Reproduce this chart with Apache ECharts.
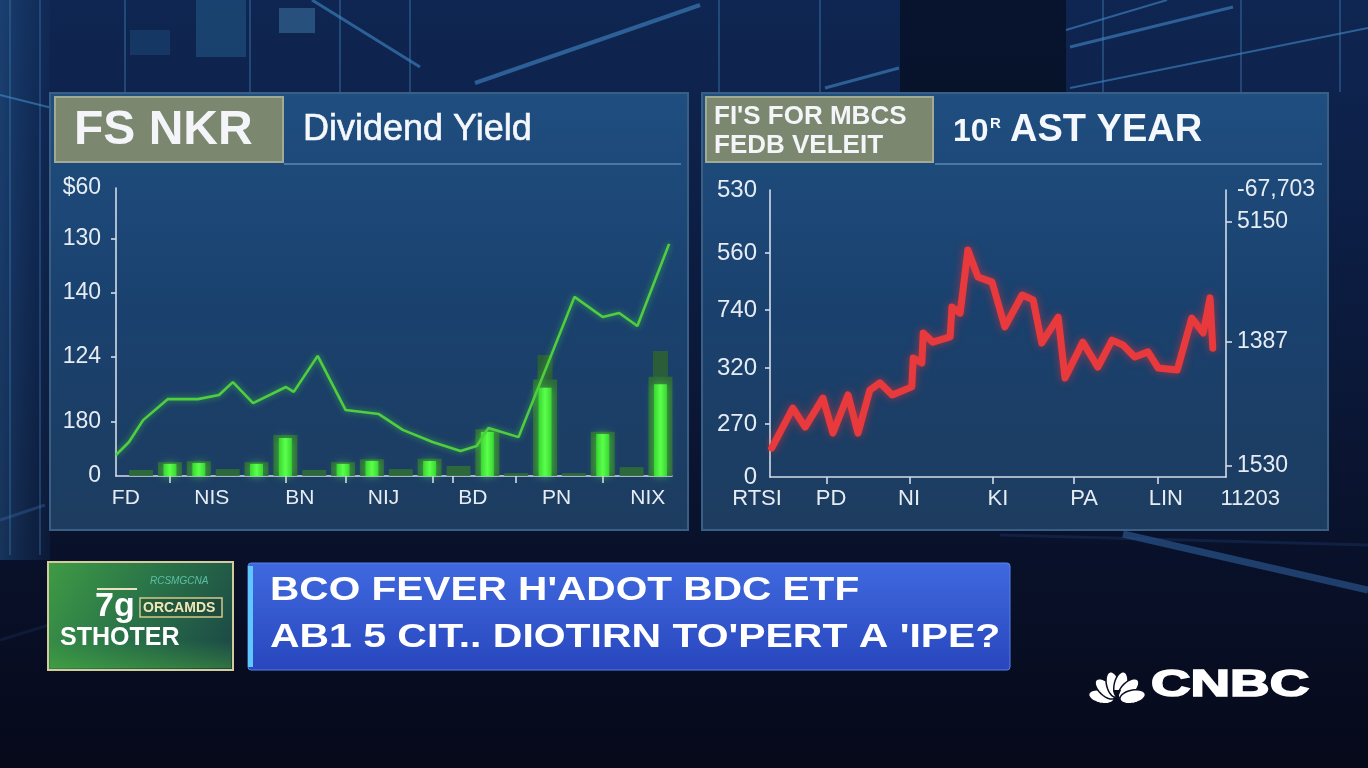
<!DOCTYPE html>
<html><head><meta charset="utf-8">
<script src="https://cdn.jsdelivr.net/npm/echarts@6/dist/echarts.min.js"></script>
<style>html,body{margin:0;padding:0;background:#0a1733;overflow:hidden}#c{width:1368px;height:768px;}</style>
</head><body><div id="c"></div>
<script>
// ---------------- LEFT CHART DATA (Dividend Yield) ----------------
const leftXLabels   = ['FD','NIS','BN','NIJ','BD','PN','NIX'];
const leftXLabelPos = [-0.53, 2.45, 5.5, 8.4, 11.5, 14.4, 17.56];
const leftXTickPos  = [1, 5, 7.1, 10.1, 10.8, 13, 16];
const leftYLabels   = ['0','180','124','140','130','$60'];
const leftYLabelPos = [0, 18.75, 41.3, 63.5, 82.3, 100];
const barBright = [null,4.2,4.5,null,4.2,13.2,null,4.2,5.2,null,5.2,null,15.3,null,30.6,null,14.6,null,31.9];
const barHalo   = [2.1,4.8,5.1,2.4,4.8,14.2,2.1,4.8,5.8,2.4,6.0,3.5,16.2,1.0,33.5,1.0,15.4,3.1,34.5];
const barShade  = [null,null,null,null,null,null,null,null,null,null,null,null,null,null,42.0,null,null,null,43.4];
const yieldX = [-0.87,-0.42,0.07,0.93,1.97,2.70,3.18,3.88,5.02,5.29,6.12,7.09,8.24,9.07,10.1,11.07,11.63,12.04,13.08,15.02,16.0,16.57,17.2,18.3];
const yieldY = [7.3,11.8,19.4,26.7,26.7,28.1,32.6,25.3,30.9,29.2,41.7,22.9,21.5,16.0,11.8,8.7,10.4,16.7,13.5,62.2,55.2,56.6,52.1,80.6];

// ---------------- RIGHT CHART DATA (Last year) ----------------
const rightXLabels   = ['RTSI','PD','NI','KI','PA','LIN','11203'];
const rightXLabelPos = [-2.85, 13.4, 30.5, 50, 68.9, 86.8, 105.3];
const rightXTickPos  = [12.5, 30.7, 48.9, 66.7, 85.1];
const rightYLabels   = ['0','270','320','740','560','530'];
const rightYLabelPos = [0, 18.5, 38, 58.2, 78, 100];
const rightY2Labels  = ['1530','1387','5150','-67,703'];
const rightY2LabelPos= [3.8, 47.1, 88.9, 100];
const rightY2TickPos = [3.8, 47.1, 88.9];
const priceX = [0.37,5.0,7.7,11.6,13.8,17.1,19.3,21.9,24.1,26.8,31.1,31.4,33.3,33.6,35.7,39.5,39.9,41.7,43.4,45.6,48.7,51.5,55.3,57.7,59.6,63.2,64.7,68.6,71.9,75.0,77.4,80.0,82.9,85.1,89.3,92.5,95.0,96.5,97.1];
const priceY = [10.1,24.0,17.4,27.5,15.3,28.6,15.3,30.3,32.8,28.6,31.4,41.5,39.7,50.2,47.0,48.8,59.2,57.1,79.1,69.7,67.9,52.3,63.4,61.7,46.7,55.7,34.5,47.0,38.3,47.7,46.0,41.8,43.6,38.0,37.3,55.4,50.2,62.4,44.9];

// ---------------- TEXTS ----------------
const leftBadge = 'FS NKR';
const leftTitle = 'Dividend Yield';
const rightBadge1 = "FI'S FOR MBCS";
const rightBadge2 = 'FEDB VELEIT';
const rightTitleNum = '10';
const rightTitleSup = 'R';
const rightTitle = 'AST YEAR';
const bannerLine1 = "BCO FEVER H'ADOT BDC ETF";
const bannerLine2 = "AB1 5 CIT.. DIOTIRN TO'PERT A 'IPE?";
const greenSmall = 'RCSMGCNA';
const greenBig = '7g';
const greenBoxed = 'ORCAMDS';
const greenBottom = 'STHOTER';
const logoText = 'CNBC';

const FONT = "'Liberation Sans', Arial, sans-serif";
const AX = '#d3dce8';
const LBL = '#e6ecf3';

function pick(pos, labels){
  return function(v){
    for (let i=0;i<pos.length;i++){ if (Math.abs(pos[i]-v) < 1e-6) return labels[i]; }
    return '';
  };
}
function pairs(xs, ys){ return xs.map((x,i)=>[x, ys[i]]); }
function barPairs(arr){ const out=[]; arr.forEach((v,i)=>{ if(v!=null) out.push([i,v]); }); return out; }

// ---------------- DECOR ----------------
function rect(x,y,w,h,style,z,extra){ return Object.assign({type:'rect', silent:true, z:z, shape:{x:x,y:y,width:w,height:h}, style:style}, extra||{}); }
function line(x1,y1,x2,y2,stroke,w,z){ return {type:'line', silent:true, z:z, shape:{x1:x1,y1:y1,x2:x2,y2:y2}, style:{stroke:stroke,lineWidth:w}}; }
function txt(x,y,text,font,fill,z,extra,styleExtra){
  return Object.assign({type:'text', silent:true, z:z, x:x, y:y, originX:0, originY:0,
    style:Object.assign({text:text, font:font, fill:fill, textAlign:'left', textVerticalAlign:'middle'}, styleExtra||{})}, extra||{});
}
function lg(x0,y0,x1,y1,stops){ return new echarts.graphic.LinearGradient(x0,y0,x1,y1, stops.map(s=>({offset:s[0],color:s[1]}))); }

const g = [];
// background
g.push(rect(0,0,1368,768,{fill:lg(0,0,0,1,[[0,'#0f2652'],[0.3,'#0c1e44'],[0.62,'#0a1430'],[1,'#06091a']])},-100));
g.push(rect(0,0,50,560,{fill:lg(0,0,1,0,[[0,'rgba(40,95,150,0.45)'],[1,'rgba(20,50,95,0.25)']])},-99));
g.push(rect(900,0,166,95,{fill:'rgba(4,8,22,0.6)'},-99));
g.push(rect(196,0,50,57,{fill:'rgba(45,120,170,0.35)'},-98));
g.push(rect(279,8,36,25,{fill:'rgba(90,160,210,0.35)'},-98));
g.push(rect(130,30,40,25,{fill:'rgba(45,110,160,0.25)'},-98));
[[312,0,420,67,3],[475,83,700,5,4],[1066,30,1167,0,2],[1070,47,1233,7,3],[1070,88,1368,28,2],[825,88,899,68,3],[0,95,60,110,2]].forEach(a=>g.push(line(a[0],a[1],a[2],a[3],'rgba(70,145,210,0.55)',a[4],-97)));
[[125,0,125,92],[250,0,250,92],[340,0,340,92],[410,0,410,92],[719,0,719,92],[820,0,820,92],[1103,0,1103,92],[1241,0,1241,92],[1340,0,1340,92]].forEach(a=>g.push(line(a[0],a[1],a[2],a[3],'rgba(70,140,200,0.35)',2,-97)));
[[10,0,10,555],[40,0,40,555]].forEach(a=>g.push(line(a[0],a[1],a[2],a[3],'rgba(70,140,200,0.3)',2,-97)));
g.push(line(1123,534,1368,590,'rgba(60,120,190,0.45)',7,-97));
g.push(line(1000,535,1368,545,'rgba(40,80,140,0.25)',3,-97));
g.push(line(0,640,130,600,'rgba(40,80,140,0.2)',3,-97));
g.push(line(0,520,45,505,'rgba(60,110,170,0.35)',3,-97));

// panels
const panelFill = () => lg(0,0,0,1,[[0,'#1f4e80'],[0.5,'#1a416e'],[1,'#1d3c5f']]);
g.push(rect(50,93,638,437,{fill:panelFill(),stroke:'#3a5e84',lineWidth:2},-50));
g.push(rect(702,93,626,437,{fill:panelFill(),stroke:'#3a5e84',lineWidth:2},-50));
g.push(line(284,164,681,164,'#5b88b5',1.5,-40));
g.push(line(935,164,1322,164,'#5b88b5',1.5,-40));

// header badges
g.push(rect(55,97,228,65,{fill:'#7b876f',stroke:'#a2aa92',lineWidth:2},-40));
g.push(rect(706,97,227,65,{fill:'#7b876f',stroke:'#a2aa92',lineWidth:2},-40));
const hdrShadow = {shadowColor:'rgba(15,30,70,0.95)', shadowOffsetX:-2, shadowOffsetY:2, shadowBlur:1};
g.push(txt(74,131,leftBadge,'bold 48px '+FONT,'#f3f5f8',10,null,hdrShadow));
g.push(txt(303,130,leftTitle,'36px '+FONT,'#f4f7fb',10,null,{stroke:'#f4f7fb',lineWidth:0.6}));
g.push(txt(714,117,rightBadge1,'bold 26px '+FONT,'#f3f5f8',10,null,hdrShadow));
g.push(txt(714,146,rightBadge2,'bold 26px '+FONT,'#f3f5f8',10,null,hdrShadow));
g.push(txt(953,132,rightTitleNum,'bold 32px '+FONT,'#f4f7fb',10));
g.push(txt(990,124,rightTitleSup,'bold 15px '+FONT,'#f4f7fb',10));
g.push(txt(1010,131,rightTitle,'bold 38px '+FONT,'#f4f7fb',10));

// lower third: green box
g.push(rect(48,562,185,108,{fill:lg(0,0,1,1,[[0,'#3f9c45'],[0.45,'#2a7548'],[1,'#1a4446']]),stroke:'#d4cb9a',lineWidth:2},-30));
g.push(rect(50,640,181,28,{fill:lg(0,0,0,1,[[0,'rgba(80,190,60,0)'],[1,'rgba(90,200,60,0.35)']])},-29));
g.push(txt(150,581,greenSmall,'italic 10px '+FONT,'#5cc0a6',10));
g.push(line(97,589,137,589,'#e8e2c0',2,10));
g.push(txt(95,607,greenBig,'bold 34px '+FONT,'#ffffff',10));
g.push(rect(140,598,82,19,{fill:'rgba(20,40,30,0.25)',stroke:'#d6c886',lineWidth:1.5},9));
g.push(txt(143,608,greenBoxed,'bold 14px '+FONT,'#f1e7b6',10));
g.push(txt(60,638,greenBottom,'bold 25px '+FONT,'#ffffff',10));
// lower third: blue banner
g.push(rect(248,563,762,107,{fill:lg(0,0,0,1,[[0,'#4069df'],[1,'#2846bd']]),stroke:'#5a82ea',lineWidth:1},-30,{shape:{x:248,y:563,width:762,height:107,r:3}}));
g.push(rect(248,566,5,101,{fill:'#5fc6ff'},-29));
g.push(txt(270,591,bannerLine1,'bold 33px '+FONT,'#ffffff',10,{scaleX:1.23}));
g.push(txt(270,638,bannerLine2,'bold 33px '+FONT,'#ffffff',10,{scaleX:1.24}));

// CNBC logo
g.push(txt(1151,686,logoText,'bold 37px '+FONT,'#ffffff',10,{scaleX:1.48},{stroke:'#ffffff',lineWidth:1.6}));
(function(){
  const bx=1117, by=700, angles=[168,136,104,76,44,12];
  angles.forEach(function(a){
    const rad=a*Math.PI/180, cx=bx+16*Math.cos(rad), cy=by-16*Math.sin(rad), pts=[];
    for(let k=0;k<28;k++){
      const t=k/28*2*Math.PI, ex=13*Math.cos(t), ey=6.6*Math.sin(t);
      pts.push([cx+ex*Math.cos(rad)+ey*Math.sin(rad), cy-ex*Math.sin(rad)+ey*Math.cos(rad)]);
    }
    g.push({type:'polygon',silent:true,z:10,shape:{points:pts},style:{fill:'#ffffff',stroke:'#0a0d20',lineWidth:1.5}});
  });
  g.push({type:'polygon',silent:true,z:11,shape:{points:[[bx-4,by-10],[bx+4,by-10],[bx,by]]},style:{fill:'#0a0d20'}});
})();

// ---------------- CHART ----------------
const chart = echarts.init(document.getElementById('c'), null, {renderer:'canvas'});
const hiddenX = (gi)=>({type:'value', gridIndex:gi, min:-0.87, max:18.4, show:false, splitLine:{show:false}});
chart.setOption({
  backgroundColor:'transparent',
  animation:false,
  graphic:{elements:g},
  grid:[
    {left:116, top:188, width:556, height:288},
    {left:770, top:190, width:456, height:287},
    {left:724.4, top:476, width:547.2, height:1}
  ],
  xAxis:[
    {type:'value', gridIndex:0, min:-0.87, max:18.4,
      axisLine:{show:true, onZero:false, lineStyle:{color:AX, width:1.6}},
      axisTick:{show:true, length:7, customValues:leftXTickPos, lineStyle:{color:AX, width:1.6}},
      axisLabel:{show:true, customValues:leftXLabelPos, formatter:pick(leftXLabelPos,leftXLabels), color:LBL, fontSize:21, fontFamily:FONT, margin:12},
      splitLine:{show:false}},
    hiddenX(0),
    hiddenX(0),
    {type:'value', gridIndex:1, min:0, max:100,
      axisLine:{show:true, onZero:false, lineStyle:{color:AX, width:1.6}},
      axisTick:{show:true, length:7, customValues:rightXTickPos, lineStyle:{color:AX, width:1.6}},
      axisLabel:{show:false}, splitLine:{show:false}},
    {type:'value', gridIndex:2, min:-10, max:110,
      axisLine:{show:false, onZero:false}, axisTick:{show:false},
      axisLabel:{show:true, customValues:rightXLabelPos, formatter:pick(rightXLabelPos,rightXLabels), color:LBL, fontSize:22, fontFamily:FONT, margin:11},
      splitLine:{show:false}}
  ],
  yAxis:[
    {type:'value', gridIndex:0, min:0, max:100,
      axisLine:{show:true, onZero:false, lineStyle:{color:AX, width:1.6}},
      axisTick:{show:true, length:5, customValues:leftYLabelPos.slice(1,5), lineStyle:{color:AX, width:1.6}},
      axisLabel:{show:true, customValues:leftYLabelPos, formatter:pick(leftYLabelPos,leftYLabels), color:LBL, fontSize:23, fontFamily:FONT, margin:15},
      splitLine:{show:false}},
    {type:'value', gridIndex:1, min:0, max:100, position:'left',
      axisLine:{show:true, onZero:false, lineStyle:{color:AX, width:1.6}},
      axisTick:{show:true, length:5, customValues:rightYLabelPos.slice(1,5), lineStyle:{color:AX, width:1.6}},
      axisLabel:{show:true, customValues:rightYLabelPos, formatter:pick(rightYLabelPos,rightYLabels), color:LBL, fontSize:24, fontFamily:FONT, margin:13},
      splitLine:{show:false}},
    {type:'value', gridIndex:1, min:0, max:100, position:'right',
      axisLine:{show:true, onZero:false, lineStyle:{color:AX, width:1.6}},
      axisTick:{show:true, length:6, customValues:rightY2TickPos, lineStyle:{color:AX, width:1.6}},
      axisLabel:{show:true, customValues:rightY2LabelPos, formatter:pick(rightY2LabelPos,rightY2Labels), color:LBL, fontSize:23, fontFamily:FONT, margin:11},
      splitLine:{show:false}},
    {type:'value', gridIndex:2, min:0, max:1, show:false}
  ],
  series:[
    {type:'bar', name:'shade', xAxisIndex:2, yAxisIndex:0, barWidth:15, z:1,
      itemStyle:{color:'#2b6233', opacity:0.9}, data:barPairs(barShade)},
    {type:'bar', name:'halo', xAxisIndex:1, yAxisIndex:0, barWidth:24, z:2,
      itemStyle:{color:'#2e6b37', opacity:0.92}, data:barPairs(barHalo)},
    {type:'bar', name:'bright', xAxisIndex:0, yAxisIndex:0, barWidth:13, z:3,
      itemStyle:{color:lg(0,0,1,0,[[0,'#36d830'],[0.5,'#5cff4c'],[1,'#36d830']]), shadowBlur:8, shadowColor:'rgba(90,255,80,0.55)'},
      data:barPairs(barBright)},
    {type:'line', name:'yield', xAxisIndex:0, yAxisIndex:0, z:5, symbol:'none', smooth:false,
      lineStyle:{color:'#4fcf3f', width:2.6, shadowBlur:6, shadowColor:'rgba(80,230,60,0.6)'},
      data:pairs(yieldX,yieldY)},
    {type:'line', name:'price', xAxisIndex:3, yAxisIndex:1, z:5, symbol:'none', smooth:false,
      lineStyle:{color:'#e83a3d', width:7, join:'round', cap:'round', shadowBlur:8, shadowColor:'rgba(255,50,50,0.55)'},
      data:pairs(priceX,priceY)}
  ]
});
</script>
</body></html>
